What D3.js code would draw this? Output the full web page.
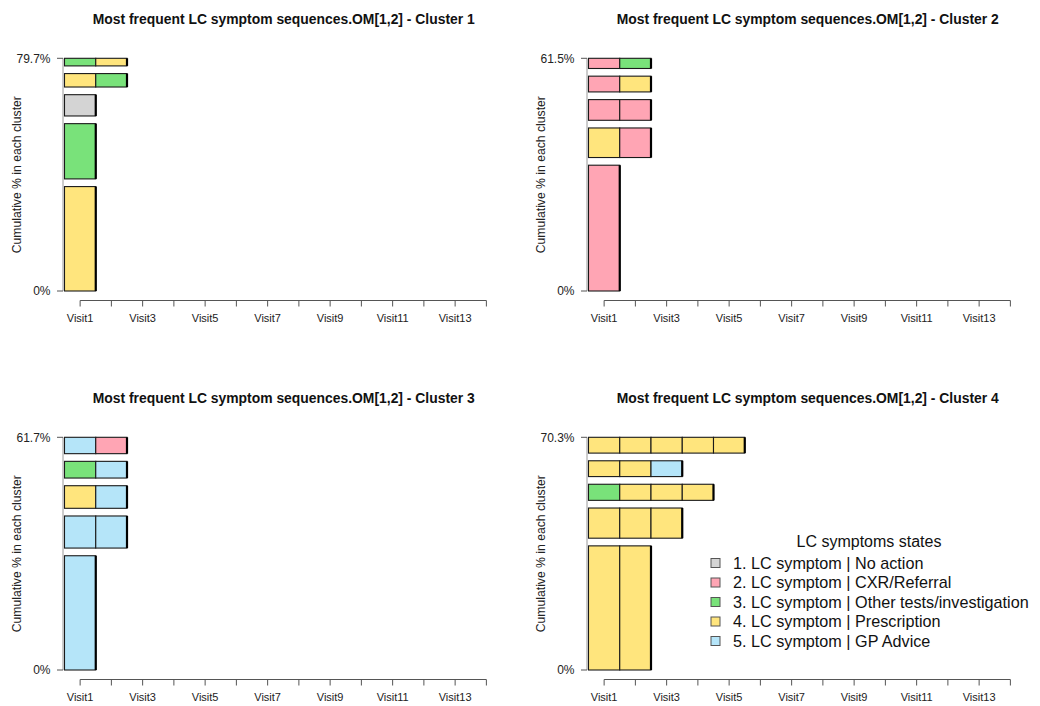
<!DOCTYPE html>
<html><head><meta charset="utf-8">
<script src="https://cdn.jsdelivr.net/npm/d3@7"></script>
<style>
html,body{margin:0;padding:0;background:#fff;}
svg{display:block;font-family:"Liberation Sans",Arial,sans-serif;}
</style></head>
<body>
<svg id="chart" width="1040" height="706"></svg>
<script>
// ---- data ----
const stateLabels = [
  "1. LC symptom | No action",
  "2. LC symptom | CXR/Referral",
  "3. LC symptom | Other tests/investigation",
  "4. LC symptom | Prescription",
  "5. LC symptom | GP Advice"
];
const stateColors = ["#D4D4D4", "#FFA5B4", "#79E27A", "#FFE57D", "#B5E5F9"];
const visits = ["Visit1","Visit2","Visit3","Visit4","Visit5","Visit6","Visit7","Visit8","Visit9","Visit10","Visit11","Visit12","Visit13","Visit14"];
const clusterNames = ["Cluster 1","Cluster 2","Cluster 3","Cluster 4"];
const titlePrefix = "Most frequent LC symptom sequences.OM[1,2] - ";
const legendTitle = "LC symptoms states";
const yAxisTitle = "Cumulative % in each cluster";

// sequences (state numbers by visit), bottom to top, with their % frequency
const seqC1 = [[4],[3],[1],[4,3],[3,4]];
const freqC1 = [41.2, 21.8, 8.4, 5.3, 3.0];
const seqC2 = [[2],[4,2],[2,2],[2,4],[2,3]];
const freqC2 = [38.3, 9.0, 6.3, 4.8, 3.1];
const seqC3 = [[5],[5,5],[4,5],[3,5],[5,2]];
const freqC3 = [34.9, 9.8, 6.9, 5.1, 5.0];
const seqC4 = [[4,4],[4,4,4],[3,4,4,4],[4,4,5],[4,4,4,4,4]];
const freqC4 = [43.2, 10.5, 5.6, 5.5, 5.5];

const panels = [
  {name: clusterNames[0], seqs: seqC1, freqs: freqC1, dx: 0,   dy: 0},
  {name: clusterNames[1], seqs: seqC2, freqs: freqC2, dx: 524, dy: 0},
  {name: clusterNames[2], seqs: seqC3, freqs: freqC3, dx: 0,   dy: 379},
  {name: clusterNames[3], seqs: seqC4, freqs: freqC4, dx: 524, dy: 379}
];

// ---- layout ----
const svg = d3.select("#chart");
const spaceRatio = 0.19;
const X0 = 64.5, X1 = 502, YB = 291, YT = 58.3;
const axisColor = "#555";

panels.forEach(p => {
  const g = svg.append("g").attr("transform", `translate(${p.dx},${p.dy})`);
  const x = d3.scaleBand().domain(visits).range([X0, X1]).paddingInner(0).paddingOuter(0);
  const total = d3.sum(p.freqs);
  const gap = spaceRatio * d3.mean(p.freqs);
  const T = total + (p.freqs.length - 1) * gap;
  const y = d3.scaleLinear().domain([0, T]).range([YB, YT]);

  // title
  g.append("text").attr("x", (X0 + X1) / 2 + 0.5).attr("y", 24)
    .attr("text-anchor", "middle").attr("font-weight", "bold").attr("font-size", 13.9)
    .attr("fill", "#111").text(titlePrefix + p.name);

  // y axis line + ticks
  g.append("line").attr("x1", 63).attr("x2", 63).attr("y1", y(0)).attr("y2", y(T))
    .attr("stroke", "#999").attr("stroke-width", 1);
  const yt = [{v: 0, label: "0%"}, {v: T, label: d3.format(".1f")(total) + "%"}];
  yt.forEach(t => {
    g.append("line").attr("x1", 57).attr("x2", 63).attr("y1", y(t.v)).attr("y2", y(t.v))
      .attr("stroke", axisColor);
    g.append("text").attr("x", 50.5).attr("y", y(t.v) + 4.3).attr("text-anchor", "end")
      .attr("font-size", 12).attr("fill", "#222").text(t.label);
  });
  g.append("text").attr("transform", `translate(20.5,${(YB + YT) / 2}) rotate(-90)`)
    .attr("text-anchor", "middle").attr("font-size", 12.2).attr("fill", "#222").text(yAxisTitle);

  // x axis
  const xa = g.append("g").attr("transform", "translate(0,300.5)")
    .call(d3.axisBottom(x).tickSizeOuter(0).tickSize(6).tickPadding(8)
      .tickFormat((d, i) => i % 2 === 0 ? d : ""));
  xa.select(".domain").attr("stroke", axisColor).attr("d",
    `M${x(visits[0]) + x.bandwidth()/2},0H${x(visits[visits.length-1]) + x.bandwidth()/2}`);
  xa.selectAll(".tick line").attr("stroke", axisColor);
  xa.selectAll(".tick text").attr("font-size", 11).attr("fill", "#222")
    .attr("font-family", "Liberation Sans, Arial, sans-serif");

  // bars
  let base = 0;
  p.seqs.forEach((s, i) => {
    const f = p.freqs[i];
    const yb = y(base), ytop = y(base + f);
    s.forEach((st, k) => {
      g.append("rect").attr("x", x(visits[k])).attr("y", ytop)
        .attr("width", x.bandwidth()).attr("height", yb - ytop)
        .attr("fill", stateColors[st - 1]).attr("stroke", "#1a1a1a").attr("stroke-width", 1.1);
    });
    const xe = x(visits[s.length - 1]) + x.bandwidth();
    g.append("line").attr("x1", xe).attr("x2", xe).attr("y1", ytop).attr("y2", yb)
      .attr("stroke", "#000").attr("stroke-width", 2.2);
    base += f + gap;
  });
});

// legend
const lg = svg.append("g");
lg.append("text").attr("x", 869).attr("y", 546.5).attr("text-anchor", "middle")
  .attr("font-size", 16).attr("fill", "#111").text(legendTitle);
stateLabels.forEach((lab, i) => {
  const cy = 563 + i * 19.5;
  lg.append("rect").attr("x", 711).attr("y", cy - 4.5).attr("width", 9).attr("height", 9)
    .attr("fill", stateColors[i]).attr("stroke", "#555").attr("stroke-width", 1);
  lg.append("text").attr("x", 733).attr("y", cy + 5.5).attr("font-size", 16.2)
    .attr("fill", "#111").text(lab);
});
</script>
</body></html>
